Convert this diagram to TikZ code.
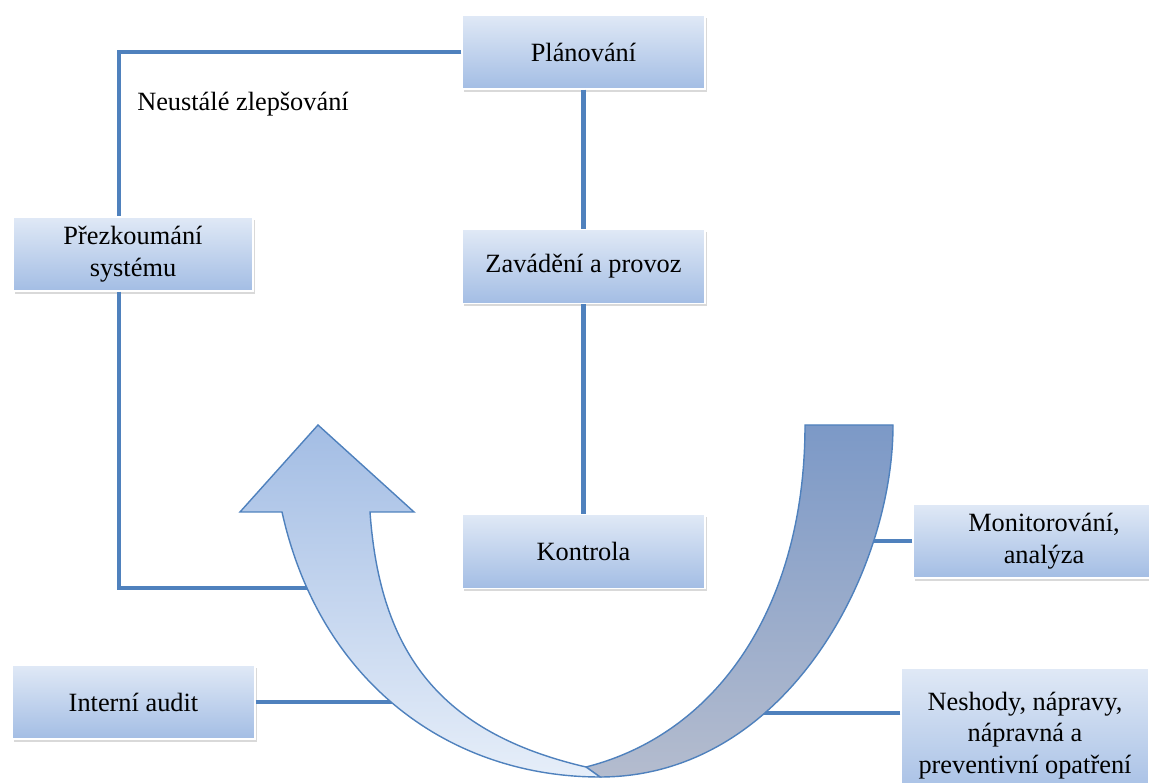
\documentclass[tikz,border=0pt]{standalone}
\usepackage{fontspec}
\setmainfont{Liberation Serif}
\usetikzlibrary{shadows,calc}
\definecolor{modra}{RGB}{79,129,189}
\definecolor{boxTop}{RGB}{224,233,246}
\definecolor{boxBot}{RGB}{163,189,228}
\definecolor{svetlaTop}{RGB}{163,189,228}
\definecolor{svetlaBot}{RGB}{230,238,249}
\definecolor{tmavaTop}{RGB}{124,153,199}
\definecolor{tmavaBot}{RGB}{180,188,206}

\begin{document}
\begin{tikzpicture}[x=0.02cm,y=0.02cm,font=\fontsize{15}{18}\selectfont,
  boite/.style={draw=white,line width=0.8pt,top color=boxTop,bottom color=boxBot,
    minimum width=4.86cm,minimum height=1.48cm,align=center,inner sep=0pt,
    drop shadow={opacity=0.3,shadow xshift=1.2pt,shadow yshift=-1.6pt}},
  spoj/.style={modra,line width=2.4pt}]
  \useasboundingbox (0,0) rectangle (1149,783);

  % Etapy cyklu
  \node[boite] (plan) at (583.5,731) {Plánování};
  \node[boite] (zavadeni) at (583.5,516.5) {Zavádění a provoz};
  \node[boite] (kontrola) at (583.5,231.5) {Kontrola};
  \node[boite,minimum width=4.8cm] (prezkoumani) at (133,529) {Přezkoumání\\systému};
  \node[boite,minimum width=5.24cm] (monitor) at (1044,242) {Monitorování,\\analýza};
  \node[boite,minimum width=4.96cm,minimum height=2.7cm] (neshody) at (1025,47.5)
    {Neshody, nápravy,\\nápravná a\\preventivní opatření};
  \node[boite] (audit) at (133.5,81) {Interní audit};
  \node (zlepsovani) at (243,679) {Neustálé zlepšování};

  % Spojnice
  \coordinate (roh) at (119,731);
  \coordinate (zp) at (310,195);
  \coordinate (zm) at (868,242);
  \coordinate (zn) at (745,70);
  \coordinate (za) at (395,81);
  \draw[spoj] (plan.west) -- (roh) -- (roh |- prezkoumani.north);
  \draw[spoj] (roh |- prezkoumani.south) |- (zp);
  \draw[spoj] (plan.south) -- (zavadeni.north);
  \draw[spoj] (zavadeni.south) -- (kontrola.north);
  \draw[spoj] (monitor.west) -- (zm);
  \draw[spoj] (neshody.west |- zn) -- (zn);
  \draw[spoj] (audit.east) -- (za);

  % Zatocena sipka - zadni pas
  \draw[modra,line width=0.8pt,top color=tmavaTop,bottom color=tmavaBot]
    (805,358) -- (893,358) .. controls (893,210) and (785,6) .. (600,6)
    -- (586,16) .. controls (720,50) and (805,180) .. cycle;
  % Zatocena sipka - predni pas s hrotem
  \draw[modra,line width=0.8pt,top color=svetlaTop,bottom color=svetlaBot]
    (240,271) -- (318,358) -- (414,271) -- (370,271)
    .. controls (380,130) and (440,50) .. (586,16) -- (600,6)
    .. controls (450,6) and (320,100) .. (282,271) -- cycle;
\end{tikzpicture}
\end{document}
